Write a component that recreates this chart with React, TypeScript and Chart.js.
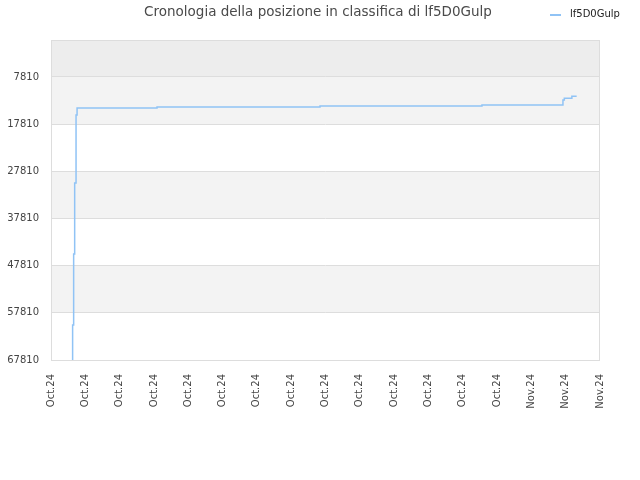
import Chart from 'chart.js/auto';
import { useEffect, useRef } from 'react';

const chartTitle = 'Cronologia della posizione in classifica di lf5D0Gulp';
const seriesName = 'lf5D0Gulp';

const xLabels = [
  'Oct.24', 'Oct.24', 'Oct.24', 'Oct.24', 'Oct.24', 'Oct.24', 'Oct.24',
  'Oct.24', 'Oct.24', 'Oct.24', 'Oct.24', 'Oct.24', 'Oct.24', 'Oct.24',
  'Nov.24', 'Nov.24', 'Nov.24',
];
const yTicks = [7810, 17810, 27810, 37810, 47810, 57810, 67810];

// position in tick units along the x axis, and rank at that moment
const rankX = [0.63, 0.63, 0.66, 0.69, 0.73, 0.76, 3.09, 7.84, 12.56, 14.92, 14.96, 15.18, 15.32];
const rankY = [67810, 60386, 45334, 30282, 15866, 14382, 14170, 13958, 13746, 12686, 12326, 11900, 11900];

const FONT = '"DejaVu Sans", sans-serif';
const LINE_COLOR = 'rgb(144, 195, 245)';

const App: React.FC = () => {
  const chartRef = useRef<HTMLCanvasElement | null>(null);

  useEffect(() => {
    document.body.style.margin = '0';
    if (!chartRef.current) return;
    const ctx = chartRef.current.getContext('2d');
    if (!ctx) return;

    const decor = {
      id: 'decor',
      beforeDraw(chart: Chart) {
        const { ctx: c, chartArea: a } = chart;
        const y = chart.scales.y;
        const bounds = [y.min, ...yTicks];
        c.save();
        for (let i = 0; i < bounds.length - 1; i++) {
          const top = y.getPixelForValue(bounds[i]);
          const bottom = y.getPixelForValue(bounds[i + 1]);
          c.fillStyle = i === 0 ? '#ededed' : i % 2 === 1 ? '#f3f3f3' : '#ffffff';
          c.fillRect(a.left, top, a.right - a.left, bottom - top);
        }
        c.restore();
      },
      afterDraw(chart: Chart) {
        const { ctx: c, chartArea: a, width } = chart;
        c.save();
        c.strokeStyle = '#dddddd';
        c.lineWidth = 1;
        c.strokeRect(a.left + 0.5, a.top + 0.5, a.right - a.left - 1, a.bottom - a.top);
        // title
        c.fillStyle = '#4a4a4a';
        c.font = `13.5px ${FONT}`;
        c.textAlign = 'center';
        c.textBaseline = 'middle';
        c.fillText(chartTitle, width / 2 - 2, 12.5);
        // legend
        c.strokeStyle = LINE_COLOR;
        c.lineWidth = 2;
        c.beginPath();
        c.moveTo(550, 15);
        c.lineTo(561, 15);
        c.stroke();
        c.fillStyle = '#222222';
        c.font = `10px ${FONT}`;
        c.textAlign = 'left';
        c.fillText(seriesName, 570, 14.5);
        c.restore();
      },
    };

    const chartInstance = new Chart(ctx, {
      type: 'line',
      data: {
        datasets: [
          {
            label: seriesName,
            data: rankX.map((x, i) => ({ x, y: rankY[i] })),
            borderColor: LINE_COLOR,
            borderWidth: 1.5,
            pointRadius: 0,
            stepped: true,
            fill: false,
          },
        ],
      },
      options: {
        responsive: false,
        animation: false,
        layout: { padding: { top: 40, right: 40, left: 0, bottom: 0 } },
        plugins: {
          legend: { display: false },
          title: { display: false },
          tooltip: { enabled: false },
        },
        scales: {
          x: {
            type: 'linear',
            min: 0,
            max: xLabels.length - 1,
            afterBuildTicks: (scale) => {
              scale.ticks = xLabels.map((_, i) => ({ value: i }));
            },
            afterFit: (scale) => {
              scale.height = 120;
            },
            grid: { display: false },
            border: { display: false },
            ticks: {
              autoSkip: false,
              minRotation: 90,
              maxRotation: 90,
              padding: 6,
              color: '#444444',
              font: { family: FONT, size: 10 },
              callback: (v) => xLabels[Number(v)] ?? '',
            },
          },
          y: {
            type: 'linear',
            reverse: true,
            min: -30,
            max: 67810,
            afterBuildTicks: (scale) => {
              scale.ticks = yTicks.map((v) => ({ value: v }));
            },
            afterFit: (scale) => {
              scale.width = 51;
            },
            grid: { color: '#dddddd', drawTicks: false },
            border: { display: false },
            ticks: {
              padding: 12,
              color: '#444444',
              font: { family: FONT, size: 10 },
              callback: (v) => String(v),
            },
          },
        },
      },
      plugins: [decor],
    });

    return () => {
      chartInstance.destroy();
    };
  }, []);

  return (
    <div style={{ width: 640, height: 480 }}>
      <canvas ref={chartRef} width={640} height={480}></canvas>
    </div>
  );
};

export default App;
